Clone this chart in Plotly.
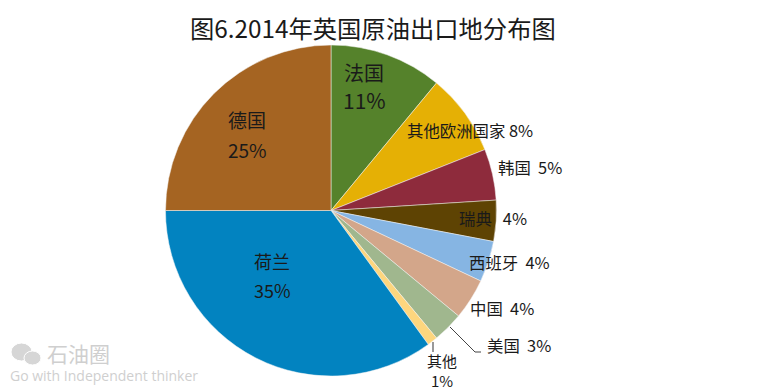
import plotly.graph_objects as go

title = "图6.2014年英国原油出口地分布图"
labels = ["法国", "其他欧洲国家", "韩国", "瑞典", "西班牙", "中国", "美国", "其他", "荷兰", "德国"]
values = [11, 8, 5, 4, 4, 4, 3, 1, 35, 25]
colors = ["#55822B", "#E5B005", "#8E2B3C", "#5E4303", "#86B5E3", "#D3A68A", "#A0B78E", "#FDD67E", "#0283C0", "#A56422"]
pcts = ["11%", "8%", "5%", "4%", "4%", "4%", "3%", "1%", "35%", "25%"]

W, H = 775, 389
FONT = "Noto Sans CJK SC"
px = lambda x: x / W
py = lambda y: 1 - y / H

fig = go.Figure(go.Pie(
    labels=labels, values=values, sort=False, direction="clockwise", rotation=0,
    marker=dict(colors=colors, line=dict(color="#F4F4F4", width=0.5)),
    textinfo="none", showlegend=False, hoverinfo="label+percent",
    domain=dict(x=[px(165.5), px(496.5)], y=[py(376), py(45)]),
))

annots = [
    (364, 72, labels[0], 20), (364, 100, pcts[0], 21),
    (470, 130, f"{labels[1]} {pcts[1]}", 16.4), (530, 167, f"{labels[2]}  {pcts[2]}", 16.4),
    (493, 218, f"{labels[3]}   {pcts[3]}", 16.4), (509, 262, f"{labels[4]}  {pcts[4]}", 16.4),
    (502, 308, f"{labels[5]}  {pcts[5]}", 16.4), (519, 345, f"{labels[6]}  {pcts[6]}", 16.4),
    (272, 261, labels[8], 18), (272, 290, pcts[8], 18),
    (247, 119, labels[9], 19), (247, 149, pcts[9], 19),
]
ann = [dict(x=px(x), y=py(y), xref="paper", yref="paper", text=t, showarrow=False,
            font=dict(size=s, color="#1A1A1A", family=FONT), xanchor="center", yanchor="middle")
       for x, y, t, s in annots]
ann.append(dict(x=px(442), y=py(370), xref="paper", yref="paper", text=f"{labels[7]}<br>{pcts[7]}", showarrow=False,
                font=dict(size=15, color="#1A1A1A", family=FONT), xanchor="center", yanchor="middle", align="center"))
ann.append(dict(x=px(373), y=py(27), xref="paper", yref="paper", text=title, showarrow=False,
                font=dict(size=24.3, color="#1A1A1A", family=FONT), xanchor="center", yanchor="middle"))
ann.append(dict(x=px(45), y=py(353), xref="paper", yref="paper", text="石油圈", showarrow=False,
                font=dict(size=21, color="#CFCFCF", family=FONT), xanchor="left", yanchor="middle"))
ann.append(dict(x=px(8), y=py(375), xref="paper", yref="paper", text="Go with Independent thinker", showarrow=False,
                font=dict(size=14, color="#CFCFCF", family="Open Sans"), xanchor="left", yanchor="middle"))

def line(pts, color, width):
    d = "M " + " L ".join(f"{px(x)} {py(y)}" for x, y in pts)
    return dict(type="path", xref="paper", yref="paper", path=d, line=dict(color=color, width=width))

def oval(x0, y0, x1, y1):
    return dict(type="circle", xref="paper", yref="paper", x0=px(x0), x1=px(x1), y0=py(y1), y1=py(y0),
                fillcolor="#D6D6D6", line=dict(color="#FFFFFF", width=1))

shapes = [
    line([(450, 327), (475, 352), (481, 352)], "#444444", 1),
    line([(433, 342), (433, 352)], "#777777", 1.5),
    oval(11, 343, 32, 361),
    oval(24, 351, 41, 365),
]

fig.update_layout(width=W, height=H, margin=dict(l=0, r=0, t=0, b=0), paper_bgcolor="#FFFFFF",
                  annotations=ann, shapes=shapes)
fig.write_html("out.html", config=dict(displayModeBar=False), post_script="document.body.style.margin='0';")
